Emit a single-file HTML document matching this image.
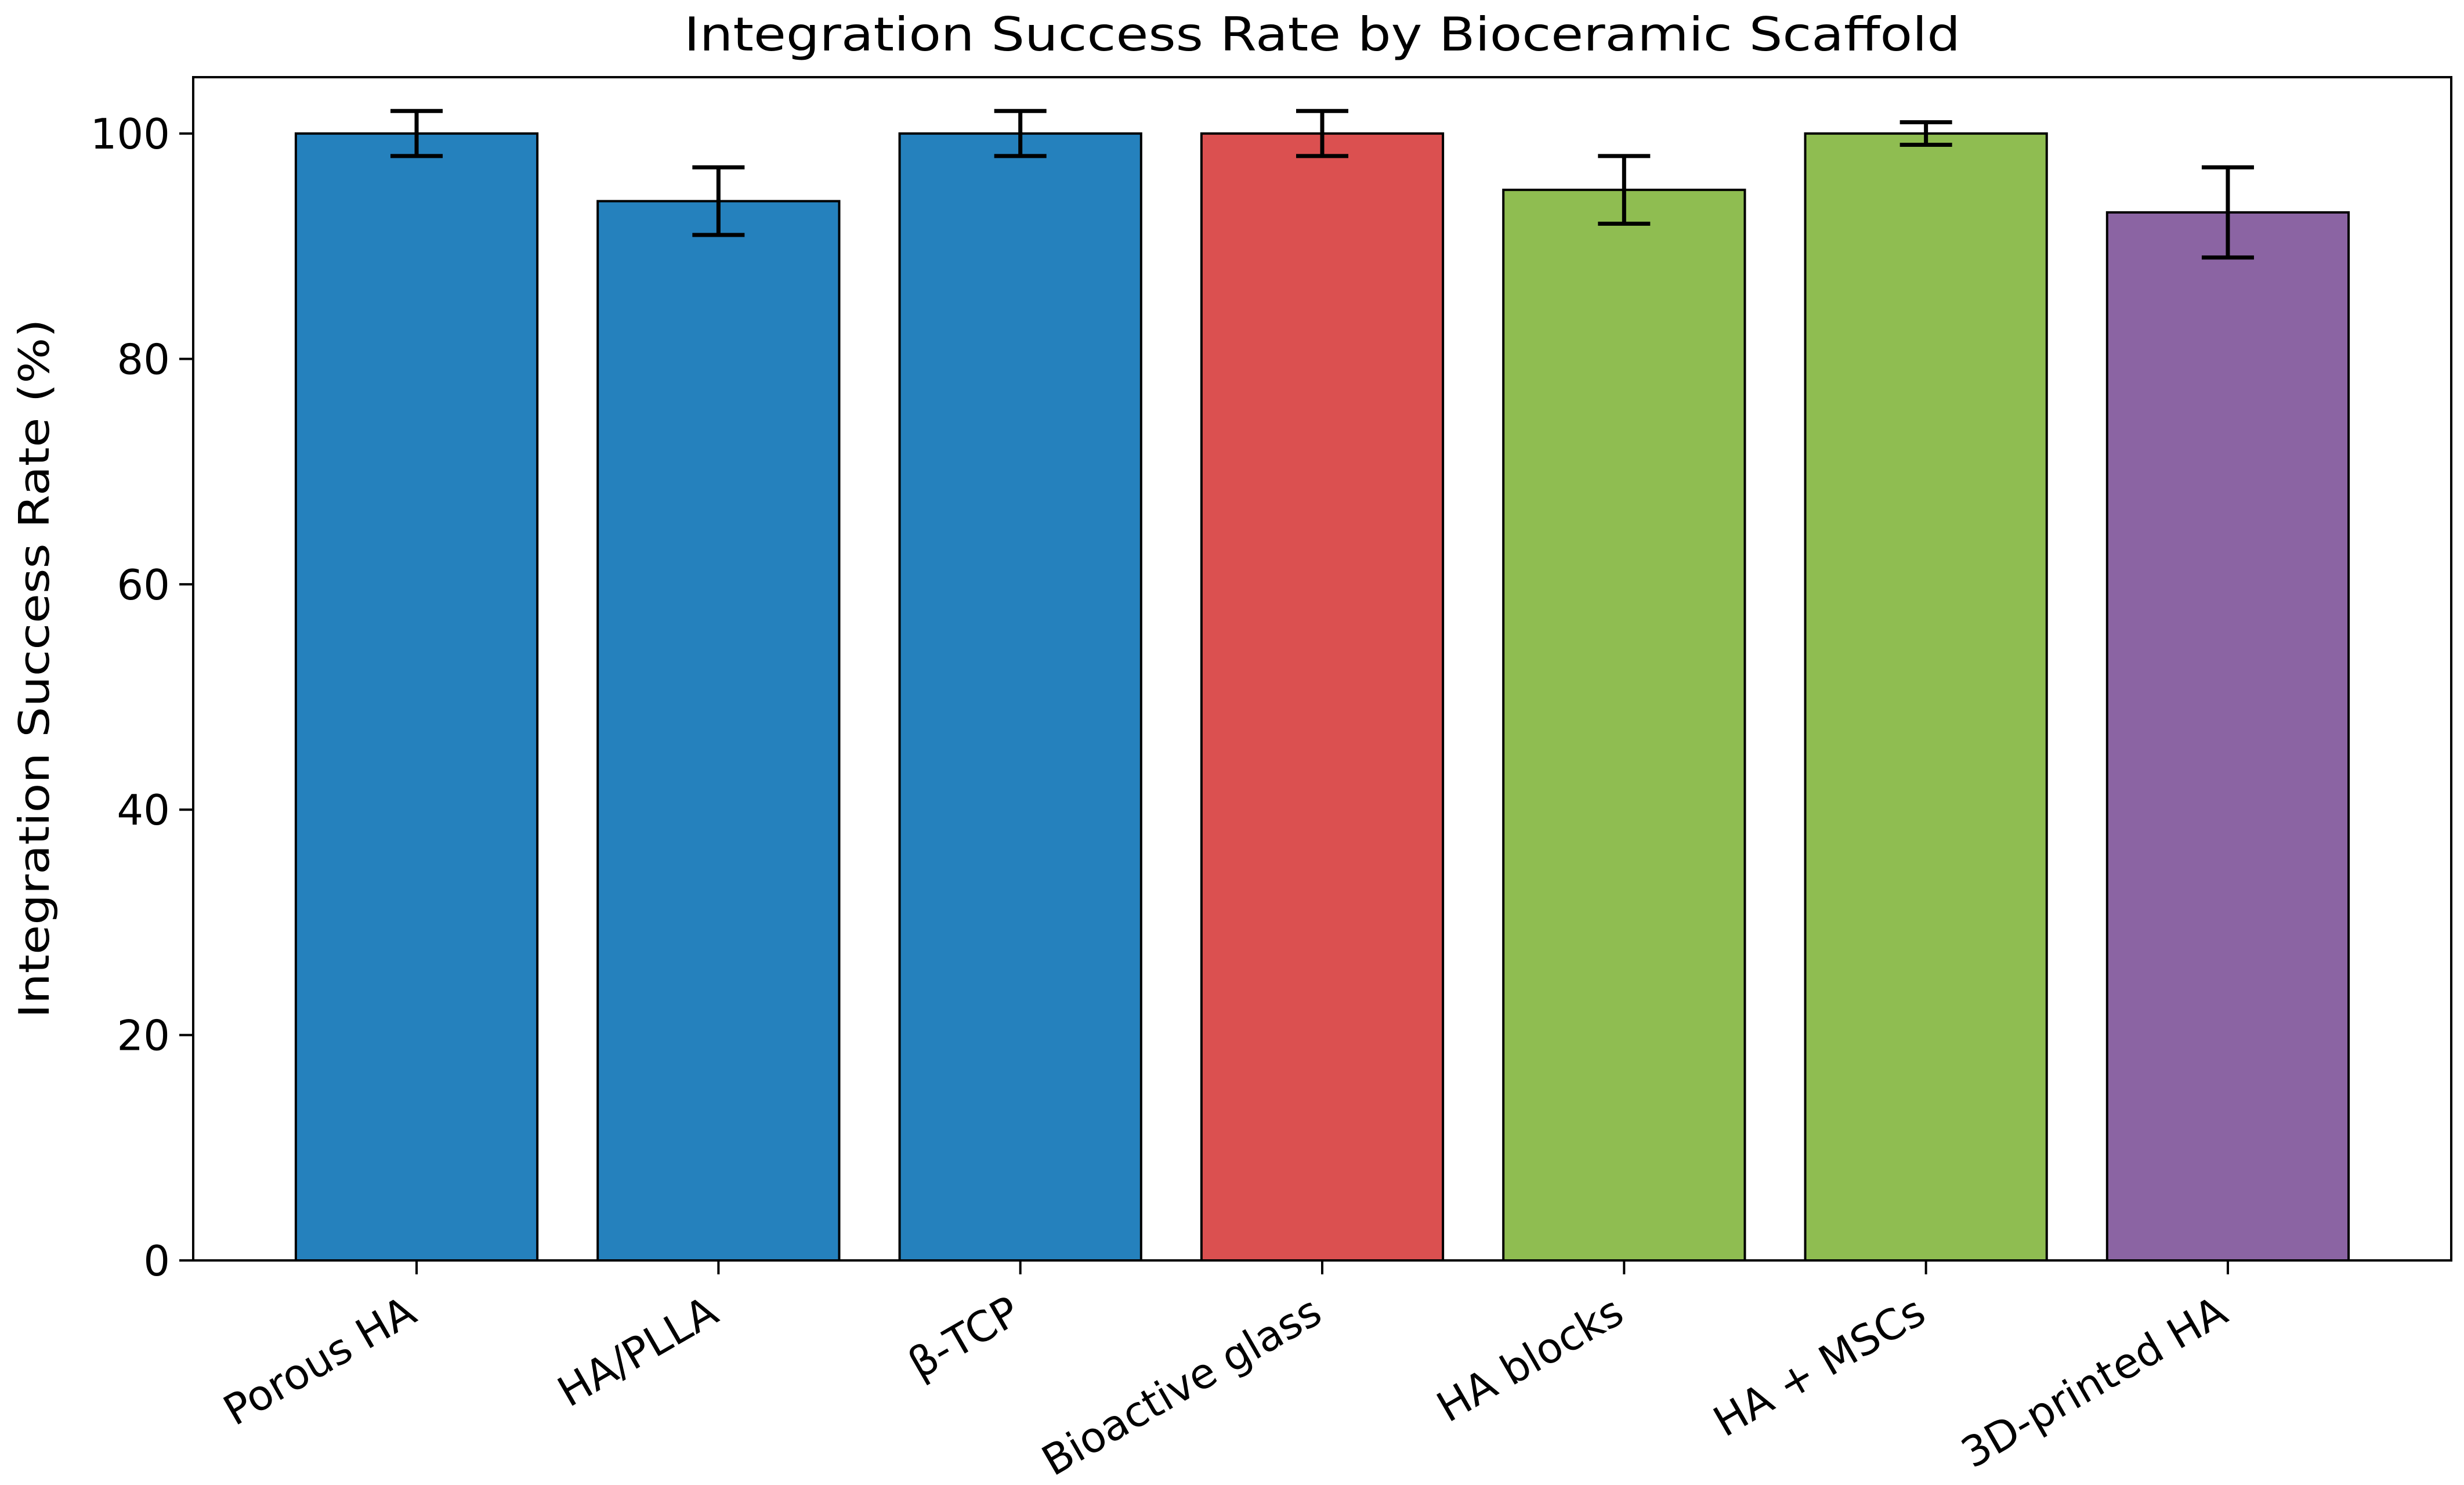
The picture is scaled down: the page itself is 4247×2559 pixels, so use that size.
<!DOCTYPE html>
<html><head><meta charset="utf-8"><style>
html,body{margin:0;padding:0;background:#fff;}
svg{display:block;font-family:"DejaVu Sans","Liberation Sans",sans-serif;}
</style></head><body>
<svg id="chart" width="4247" height="2559" viewBox="0 0 4247 2559" xmlns="http://www.w3.org/2000/svg">
<rect width="4247" height="2559" fill="#fff"/>
<text x="2279" y="87" text-anchor="middle" font-size="80" textLength="2200" lengthAdjust="spacingAndGlyphs">Integration Success Rate by Bioceramic Scaffold</text>
<text transform="translate(84,1152) rotate(-90)" text-anchor="middle" font-size="72" textLength="1205" lengthAdjust="spacingAndGlyphs">Integration Success Rate (%)</text>
<g id="bars"></g><g id="errs"></g><g id="yt"></g><g id="xt"></g>
<rect x="333" y="133" width="3892" height="2039" fill="none" stroke="#000" stroke-width="4"/>
</svg>
<script>
const categories = ["Porous HA","HA/PLLA","β-TCP","Bioactive glass","HA blocks","HA + MSCs","3D-printed HA"];
const values = [100,94,100,100,95,100,93];
const errors = [2,3,2,2,3,1,4];
const colors = ["#2581bd","#2581bd","#2581bd","#db5050","#8fbd51","#8fbd51","#8b64a3"];
const yTicks = [0,20,40,60,80,100];
const L=333,R=4225,T=133,B=2172, xmin=-0.74,xmax=6.74,ymax=105;
const ns="http://www.w3.org/2000/svg";
const xs=i=>L+(i-xmin)/(xmax-xmin)*(R-L);
const ys=v=>B-v/ymax*(B-T);
const bw=0.8*(R-L)/(xmax-xmin);
function mk(tag,attrs,parent){const e=document.createElementNS(ns,tag);for(const k in attrs)e.setAttribute(k,attrs[k]);document.getElementById(parent).appendChild(e);return e;}
categories.forEach((c,i)=>{
  const r=mk('rect',{x:xs(i)-bw/2,y:ys(values[i]),width:bw,height:B-ys(values[i]),fill:colors[i],stroke:'#000','stroke-width':4},'bars');
  
  
  const x=xs(i),y1=ys(values[i]+errors[i]),y2=ys(values[i]-errors[i]);
  const p=mk('path',{d:`M${x},${y1}V${y2}M${x-45},${y1}H${x+45}M${x-45},${y2}H${x+45}`,stroke:'#000','stroke-width':7,fill:'none'},'errs');
  
  
  const tk=mk('line',{x1:x,x2:x,y1:B,y2:B+24,stroke:'#000','stroke-width':4},'xt');
  
  
  const t=mk('text',{transform:`translate(${x-22},${B+58}) rotate(-30)`,'text-anchor':'end','font-size':72,dy:'0.72em'},'xt');
  t.textContent=c;
  
  
});
yTicks.forEach(v=>{
  const y=ys(v);
  const tk=mk('line',{x1:L-24,x2:L,y1:y,y2:y,stroke:'#000','stroke-width':4},'yt');
  
  
  const t=mk('text',{x:L-40,y:y+26,'text-anchor':'end','font-size':72},'yt');
  t.textContent=v;
  
  
});
</script>
</body></html>
